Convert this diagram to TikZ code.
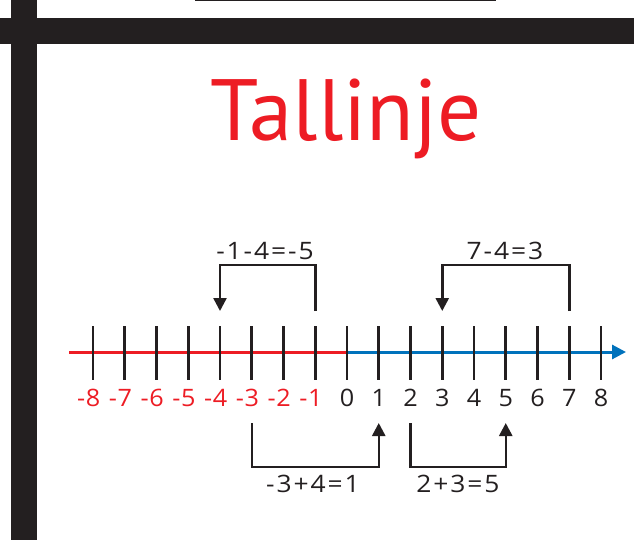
\documentclass[tikz,border=0pt]{standalone}
\usepackage{fontspec}
\setmainfont{PT Sans}
\newfontfamily\numfont[FakeStretch=1.05]{Open Sans}
\newfontfamily\lblfont[LetterSpace=8,FakeStretch=1.1]{Open Sans}
\usetikzlibrary{arrows.meta}
\definecolor{myred}{HTML}{ED1C24}
\definecolor{myblue}{HTML}{0072BC}
\definecolor{myblack}{HTML}{231F20}
\tikzset{
  tick/.style={draw=myblack,line width=2.8pt},
  bracket/.style={draw=myblack,line width=2.5pt,-{Triangle[length=13pt,width=13pt]}},
  numlbl/.style={anchor=base,font=\numfont\fontsize{24}{24}\selectfont,inner sep=0pt},
  eqlbl/.style={anchor=base,font=\lblfont\fontsize{24}{24}\selectfont,inner sep=0pt,text=myblack},
}
\begin{document}
\begin{tikzpicture}[x=1pt,y=-1pt]
\useasboundingbox (0,0) rectangle (634,540);
% frame
\fill[myblack] (10.7,0) rectangle (37.3,540);
\fill[myblack] (0,18) rectangle (634,44.3);
\draw[myblack,line width=1.5pt] (195,0.6) -- (496,0.6);
% title
\node[text=myred,font=\fontsize{87}{87}\selectfont,anchor=base,inner sep=0pt] (title) at (346,140.5) {Tallinje};
% axis
\coordinate (start) at (69,352);
\coordinate (zero) at (347,352);
\coordinate (end) at (626,352);
\draw[myred,line width=3pt] (start) -- (zero);
\draw[myblue,line width=3pt,-{Triangle[length=14pt,width=14pt]}] (zero) -- (end);
% ticks and labels
\foreach \i in {-8,...,8}{
  \pgfmathsetmacro{\xx}{347+31.75*\i}
  \coordinate (t\i) at (\xx,326);
  \coordinate (b\i) at (\xx,380);
  \draw[tick] (t\i) -- (b\i);
}
\foreach \i in {-8,...,-1}{
  \pgfmathsetmacro{\xx}{347+31.75*\i}
  \pgfmathtruncatemacro{\aa}{-\i}
  \node[numlbl,text=myred] (n\i) at (\xx,406.5) {\llap{-\kern0.5pt}\aa};
}
\foreach \i in {0,...,8}{
  \pgfmathsetmacro{\xx}{347+31.75*\i}
  \node[numlbl,text=myblack] (n\i) at (\xx,406.5) {\i};
}
% top brackets
\coordinate (a1) at (315.25,311);
\coordinate (a2) at (220,311);
\draw[bracket] (a1) -- (315.25,265) -- (220,265) -- (a2);
\node[eqlbl] (e1) at (265,259.5) {-1-4=-5};
\coordinate (c1) at (569.25,311);
\coordinate (c2) at (442.25,311);
\draw[bracket] (c1) -- (569.25,265) -- (442.25,265) -- (c2);
\node[eqlbl] (e2) at (505,259.5) {7-4=3};
% bottom brackets
\coordinate (d1) at (251.75,423);
\coordinate (d2) at (378.75,423);
\draw[bracket] (d1) -- (251.75,467) -- (378.75,467) -- (d2);
\node[eqlbl] (e3) at (313,492) {-3+4=1};
\coordinate (f1) at (410.5,423);
\coordinate (f2) at (505.75,423);
\draw[bracket] (f1) -- (410.5,467) -- (505.75,467) -- (f2);
\node[eqlbl] (e4) at (458,492) {2+3=5};
\end{tikzpicture}
\end{document}
